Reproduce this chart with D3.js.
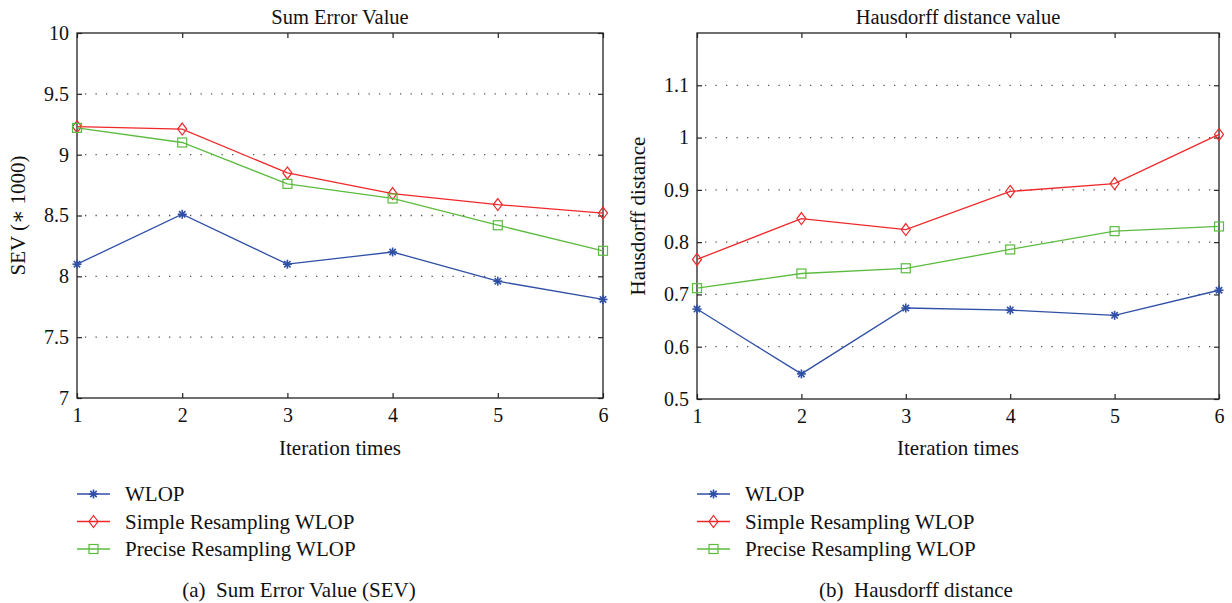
<!DOCTYPE html>
<html lang="en">
<head>
<meta charset="utf-8">
<title>SEV and Hausdorff</title>
<style type="text/css">
body { margin: 0; background: #fff; }
text { font-family: "Liberation Serif", "DejaVu Serif", serif; fill: #111; }
.grid line { stroke: #555; stroke-width: 1.3; stroke-dasharray: 1.3 9.2; }
.frame { fill: none; stroke: #222; stroke-width: 1.3; }
.tick line { stroke: #222; stroke-width: 1.2; }
</style>
</head>
<body>
<svg width="1232" height="603"></svg>
<script src="https://d3js.org/d3.v7.min.js"></script>
<script>
var iterations = [1, 2, 3, 4, 5, 6];
var seriesNames = ["WLOP", "Simple Resampling WLOP", "Precise Resampling WLOP"];

// panel (a) sum error value, *1000
var sevWlop    = [8.10, 8.51, 8.10, 8.20, 7.96, 7.81];
var sevSimple  = [9.23, 9.21, 8.85, 8.68, 8.59, 8.52];
var sevPrecise = [9.22, 9.10, 8.76, 8.64, 8.42, 8.21];
var sevTicks   = [7, 7.5, 8, 8.5, 9, 9.5, 10];

// panel (b) hausdorff distance
var hdWlop    = [0.672, 0.548, 0.674, 0.670, 0.660, 0.708];
var hdSimple  = [0.767, 0.845, 0.824, 0.897, 0.912, 1.006];
var hdPrecise = [0.712, 0.740, 0.750, 0.786, 0.821, 0.830];
var hdTicks   = [0.5, 0.6, 0.7, 0.8, 0.9, 1, 1.1];

var colors = ["#2f4fa6", "#f0282a", "#5cbb3f"];
var markers = ["star", "diamond", "square"];

var svg = d3.select("svg");

function drawMarker(g, type, color) {
  if (type == "star") {
    var r = 4.5;
    for (var i = 0; i < 4; i++) {
      var a = i * Math.PI / 4;
      g.append("line")
        .attr("x1", -r * Math.cos(a)).attr("y1", -r * Math.sin(a))
        .attr("x2", r * Math.cos(a)).attr("y2", r * Math.sin(a))
        .attr("stroke", color).attr("stroke-width", 1.6);
    }
  } else if (type == "diamond") {
    g.append("path").attr("d", "M0,-6L4.5,0L0,6L-4.5,0Z")
      .attr("fill", "none").attr("stroke", color).attr("stroke-width", 1.2);
  } else {
    g.append("rect").attr("x", -4.5).attr("y", -4.5).attr("width", 9).attr("height", 9)
      .attr("fill", "none").attr("stroke", color).attr("stroke-width", 1.2);
  }
}

function panel(opt) {
  var g = svg.append("g");
  var x = d3.scaleLinear().domain([1, 6]).range([opt.left, opt.right]);
  var y = d3.scaleLinear().domain(opt.domain).range([opt.bottom, opt.top]);

  // dotted grid
  g.append("g").attr("class", "grid").selectAll("line")
    .data(opt.ticks.filter(function(t) { return t > opt.domain[0] && t < opt.domain[1]; }))
    .enter().append("line")
      .attr("x1", opt.left + 8).attr("x2", opt.right - 4)
      .attr("y1", function(d) { return y(d); }).attr("y2", function(d) { return y(d); });

  var tickFont = function(sel) {
    sel.selectAll("text").style("font-size", "20px").style("font-family", "Liberation Serif, serif");
    sel.select(".domain").remove();
  };
  g.append("g").attr("transform", "translate(0," + opt.bottom + ")")
    .call(d3.axisBottom(x).tickValues(iterations).tickFormat(d3.format("d")).tickSizeInner(-5).tickPadding(10))
    .call(tickFont);
  g.append("g").attr("transform", "translate(0," + opt.top + ")")
    .call(d3.axisTop(x).tickValues(iterations).tickFormat("").tickSizeInner(-5))
    .call(tickFont);
  g.append("g").attr("transform", "translate(" + opt.left + ",0)")
    .call(d3.axisLeft(y).tickValues(opt.ticks).tickFormat(function(d) { return String(d); }).tickSizeInner(-5).tickPadding(8))
    .call(tickFont);
  g.append("g").attr("transform", "translate(" + opt.right + ",0)")
    .call(d3.axisRight(y).tickValues(opt.ticks).tickFormat("").tickSizeInner(-5))
    .call(tickFont);

  g.append("rect").attr("class", "frame")
    .attr("x", opt.left).attr("y", opt.top)
    .attr("width", opt.right - opt.left).attr("height", opt.bottom - opt.top);

  var line = d3.line().x(function(d, i) { return x(iterations[i]); }).y(function(d) { return y(d); });
  opt.series.forEach(function(vals, k) {
    g.append("path").attr("d", line(vals)).attr("fill", "none")
      .attr("stroke", colors[k]).attr("stroke-width", 1.3);
    vals.forEach(function(v, i) {
      var m = g.append("g").attr("transform", "translate(" + x(iterations[i]) + "," + y(v) + ")");
      drawMarker(m, markers[k], colors[k]);
    });
  });

  var mid = (opt.left + opt.right) / 2;
  g.append("text").attr("x", mid).attr("y", 24).attr("text-anchor", "middle")
    .style("font-size", "20.5px").text(opt.title);
  g.append("text").attr("x", mid).attr("y", 455).attr("text-anchor", "middle")
    .style("font-size", "21px").text("Iteration times");
  g.append("text").attr("transform", "translate(" + opt.ylabelX + "," + ((opt.top + opt.bottom) / 2) + ") rotate(-90)")
    .attr("text-anchor", "middle").style("font-size", "21px").text(opt.ylabel);

  // legend
  var lg = g.append("g");
  seriesNames.forEach(function(name, k) {
    var ly = 494 + k * 27.5;
    lg.append("line").attr("x1", opt.left).attr("x2", opt.left + 33)
      .attr("y1", ly).attr("y2", ly).attr("stroke", colors[k]).attr("stroke-width", 1.3);
    var m = lg.append("g").attr("transform", "translate(" + (opt.left + 16.5) + "," + ly + ")");
    drawMarker(m, markers[k], colors[k]);
    lg.append("text").attr("x", opt.left + 48).attr("y", ly + 7)
      .style("font-size", "21px").text(name);
  });

  g.append("text").attr("x", opt.captionX).attr("y", 597).attr("text-anchor", "middle")
    .style("font-size", "21px").attr("xml:space", "preserve").text(opt.caption);
}

panel({
  left: 77, right: 603, top: 33, bottom: 398,
  domain: [7, 10], ticks: sevTicks,
  series: [sevWlop, sevSimple, sevPrecise],
  title: "Sum Error Value", ylabel: "SEV (\u2217 1000)", ylabelX: 25,
  caption: "(a)  Sum Error Value (SEV)", captionX: 299
});

panel({
  left: 697, right: 1219, top: 33, bottom: 399,
  domain: [0.5, 1.2], ticks: hdTicks,
  series: [hdWlop, hdSimple, hdPrecise],
  title: "Hausdorff distance value", ylabel: "Hausdorff distance", ylabelX: 645,
  caption: "(b)  Hausdorff distance", captionX: 916
});
</script>
</body>
</html>
